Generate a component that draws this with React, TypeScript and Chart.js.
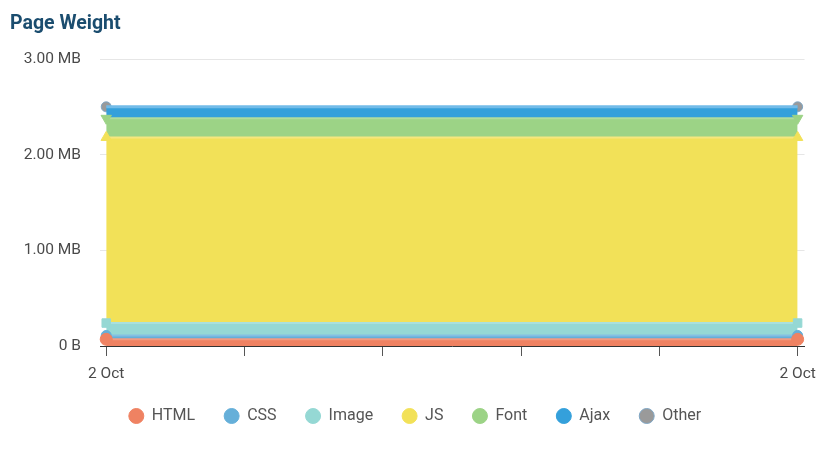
import React, { useEffect, useRef } from "react";
import { Chart, registerables } from "chart.js";

Chart.register(...registerables);

const xPositions = [0, 5];
const xTickValues = [0, 1, 2, 3, 4, 5];
const xTickLabels = ["2 Oct", "", "", "", "", "2 Oct"];

const seriesNames = ["HTML", "CSS", "Image", "JS", "Font", "Ajax", "Other"];
const htmlValues = [0.07, 0.07];
const cssValues = [0.04, 0.04];
const imageValues = [0.13, 0.13];
const jsValues = [1.94, 1.94];
const fontValues = [0.2, 0.2];
const ajaxValues = [0.12, 0.12];
const otherValues = [0.0, 0.0];

const fillColors = ["#ef8262", "#65afd9", "#95d8d4", "#f2e158", "#9cd386", "#34a0db", "#9a9a9a"];
const lineColors = ["#f29a80", "#84bfe2", "#a9e0dd", "#f5e77e", "#b0dc9e", "#72bbe8", "#72bbe8"];
const pointStyles = ["circle", "circle", "rect", "triangle", "triangle", "circle", "circle"];
const pointRotations = [0, 0, 0, 0, 180, 0, 0];
const pointSizes = [6, 5, 6, 6, 6, 0, 5];

const allValues = [htmlValues, cssValues, imageValues, jsValues, fontValues, ajaxValues, otherValues];

export default function App() {
  const ref = useRef<HTMLCanvasElement>(null);
  useEffect(() => {
    if (!ref.current) return;
    const datasets = seriesNames.map((name, i) => ({
      label: name,
      data: allValues[i].map((v, j) => ({ x: xPositions[j], y: v })),
      backgroundColor: fillColors[i],
      borderColor: lineColors[i],
      borderWidth: i === 6 ? 0 : i === 5 ? 3 : 2,
      fill: i === 0 ? "origin" : "-1",
      pointStyle: pointStyles[i] as any,
      rotation: pointRotations[i],
      pointRadius: pointSizes[i],
      pointBackgroundColor: fillColors[i],
      pointBorderColor: i === 6 ? "#7fa6c4" : fillColors[i],
      pointBorderWidth: 1,
      tension: 0,
      clip: false as any,
    }));
    const chart = new Chart(ref.current, {
      type: "line",
      data: { datasets },
      options: {
        animation: false,
        responsive: false,
        layout: { padding: { left: 14, right: 17, top: 51, bottom: 18 } },
        plugins: {
          title: { display: false },
          legend: {
            position: "bottom",
            labels: {
              usePointStyle: true,
              pointStyle: "circle",
              boxWidth: 15,
              boxHeight: 10.6,
              padding: 29,
              color: "#555555",
              font: { family: "Roboto", size: 16 },
            },
          },
          tooltip: { enabled: false },
        },
        scales: {
          x: {
            type: "linear",
            min: -0.045,
            max: 5.05,
            afterBuildTicks: (axis: any) => {
              axis.ticks = xTickValues.map((v) => ({ value: v }));
            },
            afterFit: (axis: any) => {
              axis.height = 33;
            },
            grid: {
              display: true,
              drawOnChartArea: false,
              drawTicks: true,
              tickLength: 10,
              tickColor: "#555555",
            },
            border: { display: true, color: "#333333", width: 1 },
            ticks: {
              autoSkip: false,
              maxRotation: 0,
              padding: 9,
              color: "#4a4a4a",
              font: { family: "Roboto", size: 15.5 },
              callback: (value: any) => {
                const idx = xTickValues.indexOf(Number(value));
                return idx >= 0 ? xTickLabels[idx] : "";
              },
            },
          },
          y: {
            stacked: true,
            min: 0,
            max: 3,
            afterFit: (axis: any) => {
              axis.width = 78;
            },
            grid: { color: "#e6e6e6", drawTicks: false },
            border: { display: false },
            ticks: {
              stepSize: 1,
              padding: 19,
              color: "#4a4a4a",
              font: { family: "Roboto", size: 15.5 },
              callback: (value: any) => (Number(value) === 0 ? "0 B" : Number(value).toFixed(2) + " MB"),
            },
          },
        },
      },
    });
    return () => chart.destroy();
  }, []);
  return (
    <div style={{ position: "relative", width: 817, height: 444 }}>
      <div
        style={{
          position: "absolute",
          left: 2,
          top: 3,
          fontFamily: "Roboto",
          fontWeight: "bold",
          fontSize: 19.5,
          lineHeight: "23px",
          color: "#1b4d6f",
        }}
      >
        Page Weight
      </div>
      <canvas ref={ref} width={817} height={444} style={{ display: "block" }} />
    </div>
  );
}
